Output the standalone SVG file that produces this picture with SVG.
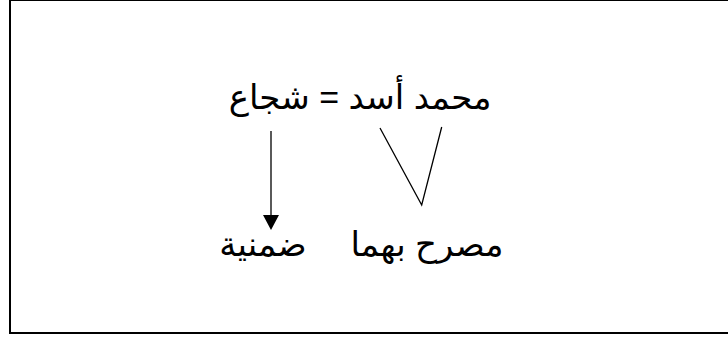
<svg xmlns="http://www.w3.org/2000/svg" width="728" height="337" viewBox="0 0 728 337">
<style>
.t{font-family:"Liberation Sans","DejaVu Sans",sans-serif;font-size:34px;fill:#000;direction:rtl;text-anchor:middle}
.c{stroke:#000;stroke-width:1.3;fill:none}
.h{fill:#000}
</style>
<rect x="10" y="0" width="730" height="333" fill="#fff" stroke="#000" stroke-width="2"/>
<g id="top"><text class="t" x="360" y="109">محمد أسد = شجاع</text></g>
<g id="implicit"><text class="t" x="263" y="256">ضمنية</text></g>
<g id="explicit"><text class="t" x="427" y="256">مصرح بهما</text></g>
<g id="connectors">
<line class="c" x1="271" y1="131" x2="271" y2="216"/>
<path class="h" d="M263,215 L279,215 L271,230 Z"/>
<polyline class="c" points="380,128 421.7,205 441.7,127"/>
</g>
</svg>
